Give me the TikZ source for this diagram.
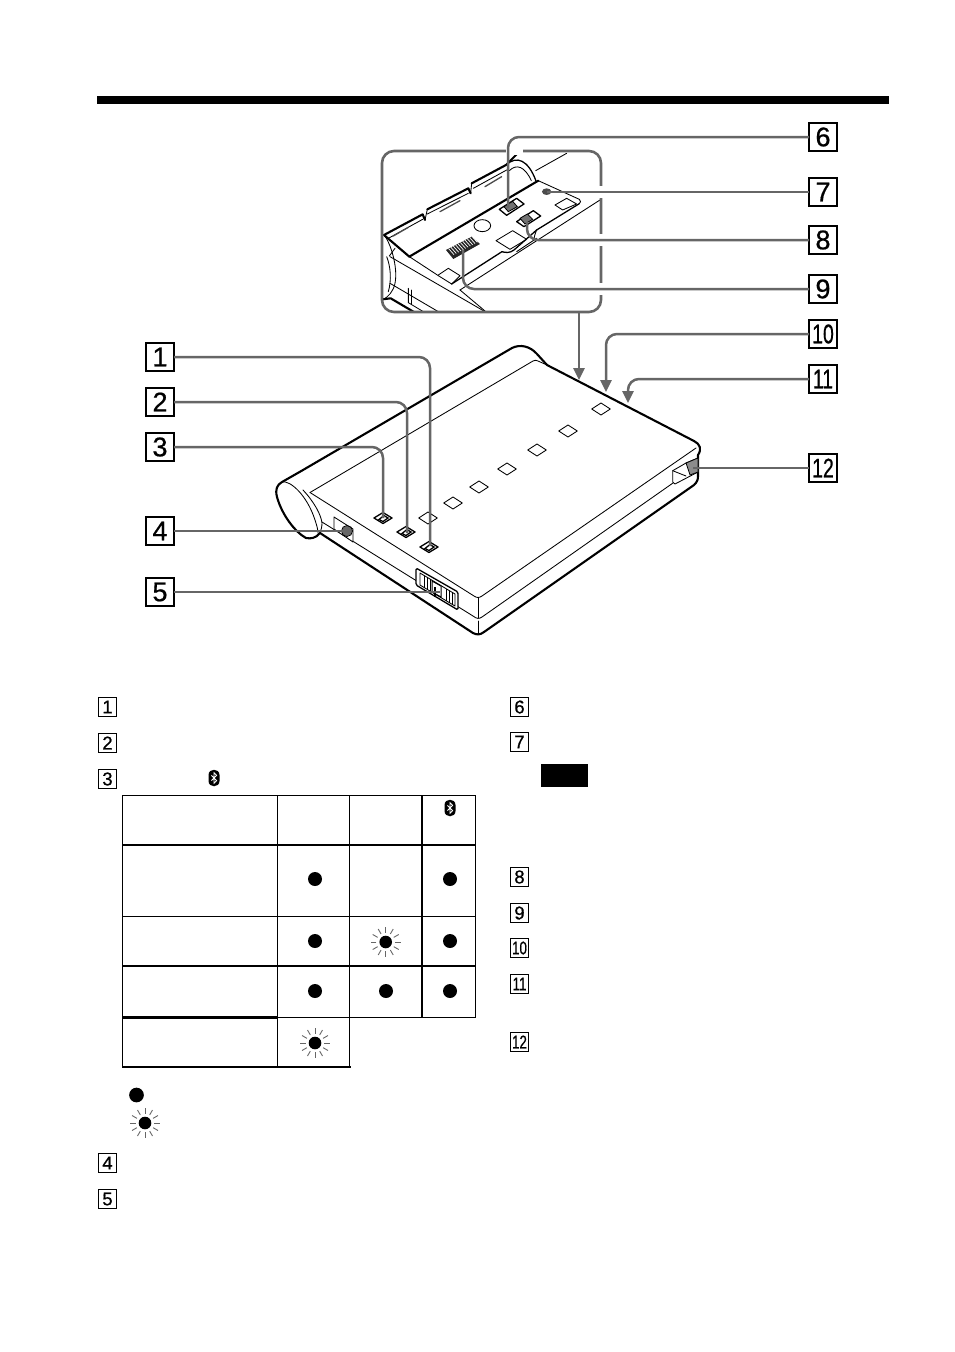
\documentclass[tikz,border=0pt]{standalone}
\usepackage{fontspec}
\usepackage{graphicx}
\setmainfont{Liberation Sans}
\newfontfamily\lblfont{Liberation Sans}[RawFeature={embolden=0.7}]
\usetikzlibrary{arrows.meta}
\definecolor{conngray}{HTML}{666666}
\tikzset{
  bigbox/.style={draw=black,line width=1.3,minimum size=28,inner sep=0,outer sep=0,font=\lblfont\fontsize{27}{27}\selectfont},
  smallbox/.style={draw=black,line width=1,minimum size=18.5,inner sep=0,outer sep=0,font=\lblfont\fontsize{18.5}{18.5}\selectfont},
  conn/.style={draw=conngray,line width=2.5,rounded corners=11},
  arrowconn/.style={conn,-{Triangle[width=11,length=12]}},
  thick edge/.style={line width=2.1,line join=round,line cap=round},
  thin edge/.style={line width=0.85,line join=round,line cap=round},
  mid edge/.style={line width=1.3,line join=round,line cap=round},
  tbl/.style={line width=1.2},
  onled/.pic={\fill[black] (0,0) circle (7);},
  sunled/.pic={\fill[black] (0,0) circle (6.3);
    \foreach \a in {0,30,...,330}{\draw[line width=0.9,black!60] (\a:9.3) -- (\a:15);}},
  bticon/.pic={\fill[black] (-5.5,-3) .. controls (-5.5,-10) and (5.5,-10) .. (5.5,-3) -- (5.5,3) .. controls (5.5,10) and (-5.5,10) .. (-5.5,3) -- cycle;
    \draw[white,line width=0.8] (-2.6,-2.6) -- (2.6,2.6) -- (0,5.2) -- (0,-5.2) -- (2.6,-2.6) -- (-2.6,2.6);},
  ledbox/.pic={\draw[thin edge,fill=white] (-9.3,0) -- (0,-6) -- (9.3,0) -- (0,6) -- cycle;},
  btnbox/.pic={\draw[mid edge,fill=white] (-9,0) -- (0,-5.5) -- (9,0) -- (0,5.5) -- cycle;
    \draw[line width=1.3,black] (-4,1.5) -- (1,-2.5) -- (5,0) -- (0,3.5) -- cycle;}
}
\begin{document}
\begin{tikzpicture}[x=1pt,y=-1pt]
\useasboundingbox (0,0) rectangle (954,1352);
\fill[black] (97,96) rectangle (889,104);

% ---------- device ----------
\draw[thick edge,fill=white] (303,470) -- (512,348) .. controls (520,344) and (530,346) .. (537,354) -- (547,365)
  -- (694,441) .. controls (700,444) and (702,449) .. (698,455) -- (698,476)
  .. controls (698,480) and (697,482) .. (694,485)
  -- (484,632) .. controls (480,635) and (477,635) .. (473,633)
  -- (320,533) .. controls (316,538) and (311,539) .. (306,538)
  .. controls (295,532) and (282,515) .. (277,497)
  .. controls (275,489) and (277,485) .. (282,482) -- cycle;
\draw[thin edge] (282,482) .. controls (290,480) and (307,495) .. (315,520) .. controls (317,526) and (318,530) .. (318,533);
\draw[thin edge] (303,490) .. controls (315,503) and (321,515) .. (322,523) .. controls (322,527) and (321,530) .. (320,533);
\draw[thin edge] (310,492.5) -- (533,361) .. controls (535,360) and (536,360) .. (538,361) -- (547,365);
\draw[thin edge] (310,492.5) -- (474,596) .. controls (477,598) and (479,598) .. (482,596) -- (696,448);
\draw[thin edge] (322,522) -- (473,616) .. controls (477,619) and (479,619) .. (482,617) -- (673,483);
\draw[thin edge] (478,598) -- (478,618);
\draw[thin edge] (478,621) -- (478,634);
% jack
\draw[thin edge,fill=white] (334,517) -- (353,529) -- (353,542) -- (334,529) -- cycle;
\fill[black!60] (347,531) circle (5);
\draw[thin edge] (347,531) circle (5.5);
% LEDs
\foreach \p in {(601,409),(568,431),(537,450),(507,469),(479,487),(453,503),(428,518)}{\path \p pic {ledbox};}
\path (429,547) pic {btnbox};
\path (406,532) pic {btnbox};
\path (383,518) pic {btnbox};
% power switch
\draw[mid edge,fill=white,rounded corners=1.5] (416,568) -- (458,592) -- (458,610) -- (416,585) -- cycle;
\draw[thin edge] (420,573) -- (455,594) -- (455,606) -- (420,585) -- cycle;
\foreach \x/\y in {424/576,427/577.5,430/579,446/589,449/591,452/592.5}{\draw[line width=1] (\x,\y) -- (\x,\y+11.5);}
\draw[line width=1] (432,581) -- (441,586) -- (441,597) -- (432,592) -- cycle;
\draw[line width=1.6] (435,587) -- (435,597);
% catch
\draw[thin edge,fill=white] (672.7,470.7) -- (686,463) -- (698,458) -- (698,472) -- (675,484) -- (672.7,482) -- cycle;
\draw[thin edge] (672.7,470.7) -- (686,476);
\fill[black!45] (686,463) -- (698,458) -- (698,472) -- (690,475) -- cycle;
\draw[line width=0.8] (686,463) -- (698,458) -- (698,472) -- (690,475) -- cycle;

% ---------- enlarged panel ----------
\begin{scope}
\clip[rounded corners=12] (382,151) rectangle (601,312);
\begin{scope}[shift={(370,110)},x=0.3333pt,y=-0.3333pt]
  \draw[thick edge] (42,375) -- (158,313) -- (165,330);
  \draw[thick edge] (172,298) -- (295,235) -- (302,250);
  \draw[thick edge] (305,220) -- (408,165) -- (445,128);
  \draw[thin edge] (165,330) -- (172,298);
  \draw[thin edge] (302,250) -- (305,220);
  \draw[thin edge] (55,385) -- (158,328);
  \draw[thin edge] (172,312) -- (295,250);
  \draw[thin edge] (310,235) -- (410,180);
  \draw[mid edge,black!70] (70,378) -- (115,352);
  \draw[mid edge,black!70] (210,305) -- (270,272);
  \draw[mid edge,black!70] (345,230) -- (395,200);
  \draw[mid edge] (408,165) .. controls (440,135) and (475,150) .. (498,213);
  \draw[thin edge] (418,182) .. controls (440,160) and (465,170) .. (484,212);
  \draw[thin edge] (497,182) -- (590,130);
  \draw[thick edge] (42,375) -- (118,440);
  \draw[thin edge] (75,415) -- (58,438);
  \draw[thick edge] (118,440) -- (505,212);
  \draw[thin edge] (505,212) -- (628,268) .. controls (634,272) and (632,278) .. (628,281);
  \draw[mid edge] (628,281) -- (500,360);
  \draw[mid edge] (500,360) -- (432,420) .. controls (420,430) and (405,428) .. (396,425);
  \draw[mid edge] (396,425) -- (245,522);
  \draw[thin edge] (118,440) -- (205,497);
  \draw[thin edge] (245,522) -- (205,497);
  \draw[thin edge] (500,385) -- (440,425);
  \draw[thin edge] (500,385) .. controls (490,392) and (490,385) .. (500,360);
  \draw[thin edge] (60,440) -- (345,605);
  \draw[thin edge] (270,540) -- (690,270);
  \draw[thin edge] (270,540) -- (345,603);
  \draw[thin edge] (42,375) .. controls (60,395) and (85,470) .. (75,520) .. controls (70,545) and (55,560) .. (38,570);
  \draw[thin edge] (50,440) .. controls (62,470) and (65,510) .. (55,545);
  \draw[thick edge] (38,568) -- (62,565) -- (135,608);
  \draw[thin edge] (60,520) -- (210,608);
  \draw[thin edge] (115,535) -- (115,578) -- (165,608);
  \draw[thin edge] (123,540) -- (123,582);
  % ellipse port
  \draw[thin edge] (337,347) ellipse [x radius=25,y radius=18];
  % DIP block
  \fill[black!85] (228,420) -- (305,380) -- (330,402) -- (250,447) -- cycle;
  \foreach \i in {0,...,10}{
    \draw[white,line width=0.7] ({236+\i*7},{416-\i*3.7}) -- ({252+\i*7},{434-\i*3.7});
  }
  % slide switches
  \draw[mid edge,fill=white] (388,298) -- (440,265) -- (462,282) -- (410,316) -- cycle;
  \fill[black!55] (402,290) -- (428,274) -- (442,290) -- (415,305) -- cycle;
  \draw[line width=0.8] (402,290) -- (428,274) -- (442,290) -- (415,305) -- cycle;
  \draw[mid edge,fill=white] (440,335) -- (490,302) -- (512,318) -- (462,350) -- cycle;
  \fill[black!55] (450,325) -- (472,312) -- (488,328) -- (465,342) -- cycle;
  \draw[line width=0.8] (450,325) -- (472,312) -- (488,328) -- (465,342) -- cycle;
  % rectangles on plate
  \draw[thin edge] (378,392) -- (428,362) -- (470,388) -- (420,418) -- cycle;
  \draw[thin edge] (555,285) -- (590,265) -- (620,282) -- (578,300) -- cycle;
  \draw[thin edge] (205,495) -- (235,475) -- (270,497) -- (245,522);
  % phone dot
  \fill[black!70] (530,245) ellipse [x radius=14,y radius=10];
\end{scope}
\end{scope}
\draw[conngray,line width=2.6,rounded corners=12] (382,151) rectangle (601,312);
\fill[white] (506,147) rectangle (523,155);
\foreach \yy in {192,240,289}{\fill[white] (596,\yy-6) rectangle (606,\yy+6);}

% ---------- labels in the drawing ----------
\node[bigbox] (l1) at (160,357) {1};
\node[bigbox] (l2) at (160,402) {2};
\node[bigbox] (l3) at (160,447) {3};
\node[bigbox] (l4) at (160,531) {4};
\node[bigbox] (l5) at (160,592) {5};
\node[bigbox] (l6) at (823,137) {6};
\node[bigbox] (l7) at (823,192) {7};
\node[bigbox] (l8) at (823,240) {8};
\node[bigbox] (l9) at (823,289) {9};
\node[bigbox] (l10) at (823,334) {\scalebox{0.72}[1]{10}};
\node[bigbox] (l11) at (823,379) {\scalebox{0.72}[1]{11}};
\node[bigbox] (l12) at (823,468) {\scalebox{0.72}[1]{12}};

\coordinate (b1) at (430,546);
\coordinate (b2) at (407,533);
\coordinate (b3) at (383,518);
\coordinate (b4) at (347,531);
\coordinate (b5) at (440,592);
\coordinate (b6) at (508,208);
\coordinate (b7) at (547,192);
\coordinate (b8) at (527,222);
\coordinate (b9) at (463,250);
\coordinate (b10) at (606,392);
\coordinate (b11) at (628,403);
\coordinate (b12) at (693,468);
\coordinate (ptop) at (579,312);
\coordinate (pend) at (579,380);

\draw[conn] (l1.east) -| (b1);
\draw[conn] (l2.east) -| (b2);
\draw[conn] (l3.east) -| (b3);
\draw[conn] (l4.east) -- (b4);
\draw[conn] (l5.east) -- (b5);
\draw[conn] (l6.west) -| (b6);
\draw[conn] (l7.west) -- (b7);
\draw[conn] (l8.west) -| (b8);
\draw[conn] (l9.west) -| (b9);
\draw[conn,line width=1.9] (l12.west) -- (b12);
\draw[arrowconn] (ptop) -- (pend);
\draw[arrowconn] (l10.west) -| (b10);
\draw[arrowconn] (l11.west) -| (b11);

% ---------- legend numbers ----------
\node[smallbox] (s1) at (107.5,707) {1};
\node[smallbox] (s2) at (107.5,743) {2};
\node[smallbox] (s3) at (107.5,779) {3};
\node[smallbox] (s4) at (107.5,1163) {4};
\node[smallbox] (s5) at (107.5,1199) {5};
\node[smallbox] (s6) at (519.5,707) {6};
\node[smallbox] (s7) at (519.5,742) {7};
\node[smallbox] (s8) at (519.5,877) {8};
\node[smallbox] (s9) at (519.5,913) {9};
\node[smallbox] (s10) at (519.5,948) {\scalebox{0.72}[1]{10}};
\node[smallbox] (s11) at (519.5,984) {\scalebox{0.72}[1]{11}};
\node[smallbox] (s12) at (519.5,1042) {\scalebox{0.72}[1]{12}};
\fill[black] (541,764) rectangle (588,787);
\path (214,778) pic {bticon};

% ---------- table ----------
\draw[tbl] (122.5,795.5) rectangle (475.5,1017.5);
\draw[tbl] (122.5,845) -- (475.5,845);
\draw[tbl] (122.5,916.5) -- (475.5,916.5);
\draw[tbl] (122.5,966) -- (475.5,966);
\draw[line width=2.8] (122,1017.5) -- (277.5,1017.5);
\draw[line width=1.9] (277.5,1017.5) -- (476,1017.5);
\draw[tbl] (277.5,795.5) -- (277.5,1067);
\draw[tbl] (349.5,795.5) -- (349.5,1067.5);
\draw[tbl] (422,795.5) -- (422,1017.5);
\draw[tbl] (122.5,1017.5) -- (122.5,1067) -- (350.5,1067);
\path (450,808) pic {bticon};
\path (315,879) pic {onled};
\path (450,879) pic {onled};
\path (315,941) pic {onled};
\path (385.7,942) pic {sunled};
\path (450,941) pic {onled};
\path (315,991) pic {onled};
\path (386,991) pic {onled};
\path (450,991) pic {onled};
\path (315,1043) pic {sunled};
\path (136.5,1095) pic[scale=1.05] {onled};
\path (145,1123) pic {sunled};
\end{tikzpicture}
\end{document}
